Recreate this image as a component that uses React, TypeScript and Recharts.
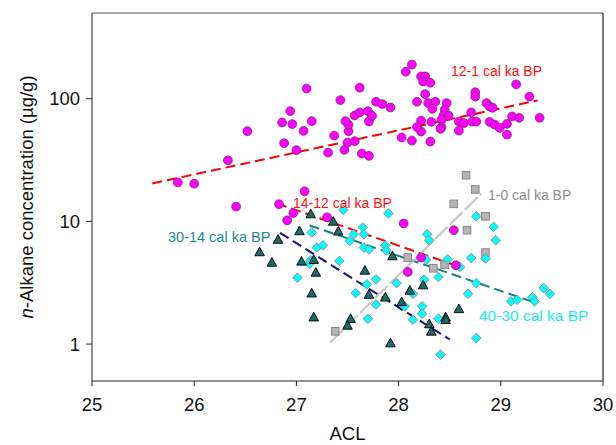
import React from 'react';
import { ScatterChart, Scatter, XAxis, YAxis, ReferenceLine } from 'recharts';

// ACL vs n-alkane concentration, grouped by age (cal ka BP)
const acl12to1 = [25.84, 26.0, 26.33, 26.52, 26.41, 26.88, 27.0, 26.86, 26.96, 26.94, 27.15, 27.07, 27.1, 27.31, 27.37, 27.47, 27.5, 27.57, 27.51, 27.51, 27.48, 27.43, 27.57, 27.62, 27.7, 27.62, 27.64, 27.71, 27.71, 28.13, 28.07, 28.22, 28.26, 28.24, 28.31, 28.26, 28.18, 28.29, 28.36, 28.47, 28.33, 28.45, 28.44, 28.49, 28.42, 28.32, 28.22, 28.22, 28.18, 28.42, 28.41, 28.03, 28.13, 28.31, 28.59, 28.64, 28.59, 28.71, 28.72, 28.76, 28.75, 28.75, 28.86, 28.89, 28.92, 28.89, 28.94, 28.99, 29.06, 29.06, 29.11, 29.18, 29.15, 29.28, 29.38, 27.78, 27.84, 27.92, 27.74];
const conc12to1 = [20.8, 20.3, 31.5, 54.4, 13.2, 43.4, 38.1, 64.0, 62.1, 79.3, 65.7, 54.7, 121, 36.4, 50.1, 38.3, 43.9, 45.1, 54.4, 61.3, 65.7, 97.6, 73.0, 77.3, 79.3, 123, 35.7, 34.2, 65.2, 190, 166, 152, 152, 138, 135, 109, 94.5, 92.2, 94.5, 92.2, 82.8, 81.3, 73.0, 72.6, 67.3, 64.8, 66.4, 54.0, 58.7, 58.7, 56.8, 48.3, 45.6, 44.8, 65.2, 63.3, 55.0, 77.3, 65.2, 65.2, 113, 104, 92.2, 86.5, 84.4, 64.8, 61.6, 57.9, 62.5, 51.0, 71.7, 69.9, 131, 104, 69.9, 94.5, 90.5, 84.9, 72.6];

const acl14to12 = [26.83, 27.08, 26.97, 26.91, 27.3, 28.05, 28.54, 28.22, 28.09, 28.56];
const conc14to12 = [13.8, 17.6, 11.7, 10.2, 10.8, 9.62, 8.48, 5.07, 3.87, 4.39];

const acl1to0 = [28.66, 28.75, 28.54, 28.85, 28.67, 28.85, 28.09, 28.34, 28.45, 27.38];
const conc1to0 = [23.8, 18.2, 13.9, 11.0, 8.48, 5.57, 5.07, 4.15, 4.44, 1.27];

const acl30to14 = [27.14, 27.36, 27.41, 27.03, 26.82, 26.64, 26.76, 27.05, 27.17, 27.19, 27.15, 27.67, 27.71, 27.17, 27.53, 27.5, 27.94, 28.11, 28.24, 28.03, 27.87, 28.46, 28.46, 28.59, 28.3, 28.32, 27.92];
const conc30to14 = [11.5, 10.0, 8.32, 8.37, 7.12, 5.64, 4.64, 4.73, 4.88, 3.84, 2.6, 3.99, 2.54, 1.66, 1.61, 1.42, 5.23, 2.74, 3.03, 2.21, 2.41, 1.66, 1.58, 1.94, 1.46, 1.27, 1.02];

const acl40to30 = [27.46, 27.15, 27.2, 27.26, 27.14, 27.13, 27.01, 27.42, 27.56, 27.65, 27.66, 27.52, 27.66, 27.71, 27.78, 27.69, 27.58, 27.78, 27.7, 27.9, 28.28, 28.3, 27.87, 27.88, 28.76, 28.93, 28.95, 28.27, 28.48, 28.6, 28.71, 28.85, 28.39, 28.25, 27.98, 28.76, 28.68, 28.14, 28.06, 28.23, 28.23, 28.14, 28.39, 28.76, 28.41, 29.1, 29.16, 29.31, 29.33, 29.42, 29.48];
const conc40to30 = [12.4, 8.12, 6.12, 6.39, 4.82, 4.53, 3.48, 4.76, 7.86, 8.92, 7.86, 6.93, 6.12, 5.9, 3.37, 3.07, 2.6, 2.1, 1.61, 11.6, 7.86, 7.02, 6.36, 5.82, 11.0, 9.02, 7.02, 4.88, 4.91, 4.25, 5.03, 4.98, 3.52, 3.35, 3.14, 3.14, 2.57, 2.57, 2.03, 2.03, 1.77, 1.58, 1.61, 1.12, 0.82, 2.23, 2.3, 2.41, 2.23, 2.86, 2.57];

// regression line end points
const fit12to1X = [25.59, 29.36];
const fit12to1Y = [20.4, 96.9];
const fit14to12X = [26.81, 28.58];
const fit14to12Y = [14.0, 4.31];
const fit30to14X = [26.84, 28.5];
const fit30to14Y = [8.06, 1.09];
const fit40to30X = [27.13, 29.32];
const fit40to30Y = [9.27, 2.2];
const fit1to0X = [27.33, 28.81];
const fit1to0Y = [1.03, 16.9];

const xTicks = [25, 26, 27, 28, 29, 30];
const yTicks = [1, 10, 100];

const toPoints = (xs: number[], ys: number[]) => xs.map((x, i) => ({ x, y: ys[i] }));
const toSegment = (xs: number[], ys: number[]) => [
  { x: xs[0], y: ys[0] },
  { x: xs[1], y: ys[1] },
];

const FONT = '"Liberation Sans", Arial, Helvetica, sans-serif';

const Dot = (p: any) => (
  <circle cx={p.cx} cy={p.cy} r={4.4} fill="#ff00ff" stroke="#7b237b" strokeWidth={0.8} />
);

const Tri = (p: any) => {
  const { cx, cy } = p;
  const s = 4.8;
  return (
    <polygon
      points={`${cx},${cy - s} ${cx + s},${cy + s * 0.8} ${cx - s},${cy + s * 0.8}`}
      fill="#1c6b6b"
      stroke="#000"
      strokeWidth={0.9}
    />
  );
};

const Diamond = (p: any) => {
  const { cx, cy } = p;
  const s = 4.8;
  return (
    <polygon
      points={`${cx},${cy - s} ${cx + s},${cy} ${cx},${cy + s} ${cx - s},${cy}`}
      fill="#00ffff"
      stroke="#8a8a8a"
      strokeWidth={0.9}
    />
  );
};

const Square = (p: any) => (
  <rect x={p.cx - 3.8} y={p.cy - 3.8} width={7.6} height={7.6} fill="#b4b4b4" stroke="#7f7f7f" strokeWidth={0.9} />
);

const YTitle = () => (
  <text
    x={26}
    y={197}
    transform="rotate(-90 26 197)"
    textAnchor="middle"
    dominantBaseline="central"
    fontSize={18.5}
    fill="#111"
    fontFamily={FONT}
  >
    <tspan fontStyle="italic">n</tspan>-Alkane concentration (µg/g)
  </text>
);

const labels = [
  { text: '12-1 cal ka BP', color: '#ff1010', left: 451, cy: 71, size: 14 },
  { text: '14-12 cal ka BP', color: '#ff1010', left: 293, cy: 203, size: 14 },
  { text: '1-0 cal ka BP', color: '#8c8c8c', left: 488, cy: 195, size: 14 },
  { text: '30-14 cal ka BP', color: '#1a8a8a', left: 168, cy: 238, size: 14.5 },
  { text: '40-30 cal ka BP', color: '#1ee8f0', left: 479, cy: 316, size: 15.5 },
];

export default function App() {
  return (
    <div style={{ position: 'absolute', left: 0, top: 0, width: 616, height: 445, background: '#fff', fontFamily: FONT }}>
      <ScatterChart width={616} height={445} margin={{ top: 13, right: 13, left: 40, bottom: 0 }}>
        <XAxis
          type="number"
          dataKey="x"
          domain={[25, 30]}
          ticks={xTicks}
          allowDataOverflow
          height={64}
          tickSize={5}
          tickMargin={12}
          stroke="#222"
          tick={{ fill: '#111', fontSize: 18.5, fontFamily: FONT }}
          label={{ value: 'ACL', position: 'insideBottom', offset: 5, fontSize: 18.5, fill: '#111', fontFamily: FONT }}
        />
        <YAxis
          type="number"
          dataKey="y"
          scale="log"
          domain={[0.5, 500]}
          ticks={yTicks}
          allowDataOverflow
          width={52}
          tickSize={6}
          tickMargin={6}
          stroke="#222"
          tick={{ fill: '#111', fontSize: 18.5, fontFamily: FONT }}
          label={<YTitle />}
        />
        <ReferenceLine y={500} stroke="#555" strokeWidth={1.2} />
        <ReferenceLine x={30} stroke="#222" strokeWidth={1.2} />

        <Scatter data={toPoints(acl1to0, conc1to0)} shape={Square} isAnimationActive={false} />
        <Scatter data={toPoints(acl40to30, conc40to30)} shape={Diamond} isAnimationActive={false} />
        <Scatter data={toPoints(acl12to1, conc12to1)} shape={Dot} isAnimationActive={false} />
        <Scatter data={toPoints(acl14to12, conc14to12)} shape={Dot} isAnimationActive={false} />
        <Scatter data={toPoints(acl30to14, conc30to14)} shape={Tri} isAnimationActive={false} />

        <ReferenceLine segment={toSegment(fit12to1X, fit12to1Y)} stroke="#ff0000" strokeWidth={2} strokeDasharray="10 5" />
        <ReferenceLine segment={toSegment(fit14to12X, fit14to12Y)} stroke="#ff0000" strokeWidth={2} strokeDasharray="10 5" />
        <ReferenceLine segment={toSegment(fit30to14X, fit30to14Y)} stroke="#10107a" strokeWidth={2} strokeDasharray="10 5" />
        <ReferenceLine segment={toSegment(fit40to30X, fit40to30Y)} stroke="#1a7f7f" strokeWidth={2} strokeDasharray="10 5" />
        <ReferenceLine segment={toSegment(fit1to0X, fit1to0Y)} stroke="#c4c4c4" strokeWidth={2} strokeDasharray="18 3" />
      </ScatterChart>
      {labels.map((l) => (
        <div
          key={l.text}
          style={{
            position: 'absolute',
            left: l.left,
            top: l.cy - l.size * 0.6,
            fontSize: l.size,
            lineHeight: 1.2,
            color: l.color,
            whiteSpace: 'nowrap',
            pointerEvents: 'none',
          }}
        >
          {l.text}
        </div>
      ))}
    </div>
  );
}
